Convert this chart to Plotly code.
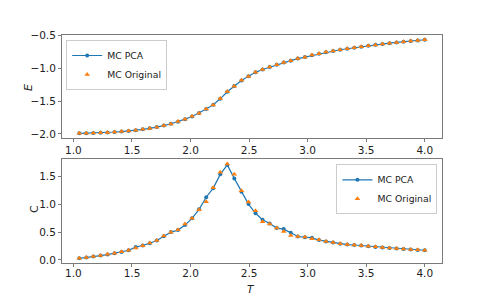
import plotly.graph_objects as go

T = [1.050, 1.110, 1.170, 1.231, 1.291, 1.351, 1.411, 1.471, 1.532, 1.592,
     1.652, 1.712, 1.772, 1.833, 1.893, 1.953, 2.013, 2.073, 2.134, 2.194,
     2.254, 2.314, 2.374, 2.435, 2.495, 2.555, 2.615, 2.676, 2.736, 2.796,
     2.856, 2.916, 2.977, 3.037, 3.097, 3.157, 3.217, 3.278, 3.338, 3.398,
     3.458, 3.518, 3.579, 3.639, 3.699, 3.759, 3.819, 3.880, 3.940, 4.000]

E_pca = [-1.991, -1.989, -1.986, -1.982, -1.977, -1.971, -1.964, -1.955, -1.944, -1.931,
         -1.915, -1.896, -1.873, -1.846, -1.814, -1.776, -1.735, -1.683, -1.622, -1.556,
         -1.466, -1.358, -1.270, -1.188, -1.124, -1.063, -1.019, -0.983, -0.946, -0.914,
         -0.885, -0.854, -0.831, -0.802, -0.780, -0.756, -0.739, -0.719, -0.704, -0.688,
         -0.673, -0.658, -0.645, -0.633, -0.619, -0.608, -0.597, -0.587, -0.577, -0.567]

E_orig = [-1.992, -1.990, -1.986, -1.983, -1.977, -1.972, -1.964, -1.956, -1.946, -1.931,
          -1.916, -1.897, -1.872, -1.848, -1.813, -1.778, -1.733, -1.686, -1.620, -1.560,
          -1.462, -1.355, -1.274, -1.185, -1.127, -1.060, -1.021, -0.981, -0.948, -0.912,
          -0.887, -0.853, -0.832, -0.800, -0.781, -0.755, -0.740, -0.718, -0.705, -0.687,
          -0.674, -0.657, -0.646, -0.632, -0.620, -0.607, -0.598, -0.586, -0.578, -0.566]

C_pca = [0.030, 0.042, 0.060, 0.078, 0.097, 0.120, 0.144, 0.174, 0.230, 0.258,
         0.300, 0.348, 0.425, 0.498, 0.534, 0.624, 0.744, 0.906, 1.122, 1.285,
         1.531, 1.699, 1.459, 1.218, 1.000, 0.835, 0.721, 0.654, 0.570, 0.552,
         0.486, 0.420, 0.408, 0.396, 0.355, 0.332, 0.312, 0.290, 0.276, 0.268,
         0.258, 0.246, 0.234, 0.222, 0.212, 0.204, 0.194, 0.186, 0.180, 0.174]

C_orig = [0.032, 0.044, 0.062, 0.082, 0.100, 0.122, 0.146, 0.172, 0.212, 0.256,
          0.302, 0.350, 0.428, 0.496, 0.540, 0.645, 0.748, 0.900, 1.040, 1.290,
          1.567, 1.717, 1.531, 1.236, 1.038, 0.880, 0.685, 0.642, 0.572, 0.510,
          0.438, 0.418, 0.410, 0.378, 0.362, 0.330, 0.314, 0.288, 0.278, 0.266,
          0.260, 0.245, 0.236, 0.221, 0.213, 0.203, 0.195, 0.185, 0.181, 0.173]

BLUE = "#1f77b4"
ORANGE = "#ff7f0e"
FONT = "DejaVu Sans"


def padded(vals, frac=0.05):
    lo, hi = min(vals), max(vals)
    span = hi - lo
    return [lo - frac * span, hi + frac * span]


fig = go.Figure()

# top panel
fig.add_trace(go.Scatter(x=T, y=E_pca, mode="lines+markers", name="MC PCA",
                         line=dict(color=BLUE, width=1.2),
                         marker=dict(symbol="circle", size=4, color=BLUE),
                         xaxis="x", yaxis="y", legend="legend"))
fig.add_trace(go.Scatter(x=T, y=E_orig, mode="markers", name="MC Original",
                         marker=dict(symbol="triangle-up", size=5, color=ORANGE),
                         xaxis="x", yaxis="y", legend="legend"))
# bottom panel
fig.add_trace(go.Scatter(x=T, y=C_pca, mode="lines+markers", name="MC PCA",
                         line=dict(color=BLUE, width=1.2),
                         marker=dict(symbol="circle", size=4, color=BLUE),
                         xaxis="x2", yaxis="y2", legend="legend2"))
fig.add_trace(go.Scatter(x=T, y=C_orig, mode="markers", name="MC Original",
                         marker=dict(symbol="triangle-up", size=5, color=ORANGE),
                         xaxis="x2", yaxis="y2", legend="legend2"))

axis_common = dict(showline=True, linecolor="#7a7a7a", linewidth=1, mirror=True,
                   ticks="outside", ticklen=3, tickcolor="#7a7a7a", tickwidth=1,
                   showgrid=False, zeroline=False,
                   tickfont=dict(family=FONT, size=10.5, color="#222"))

legend_common = dict(bgcolor="rgba(255,255,255,0.8)", bordercolor="#cccccc", borderwidth=1,
                     font=dict(family=FONT, size=9.3, color="#222"), tracegroupgap=0,
                     itemwidth=30)

xr = padded(T)
fig.update_layout(
    width=491, height=295,
    margin=dict(l=62, r=49, t=35, b=32),
    paper_bgcolor="white", plot_bgcolor="white",
    font=dict(family=FONT, size=10, color="#222"),
    xaxis=dict(domain=[0, 1], anchor="y", range=xr, dtick=0.5, tick0=1.0,
               tickformat=".1f", ticklabelstandoff=-1, **axis_common),
    yaxis=dict(domain=[0.548, 1], anchor="x", range=padded(E_pca + E_orig),
               dtick=0.5, tick0=-2.0, tickformat=".1f", **axis_common),
    xaxis2=dict(domain=[0, 1], anchor="y2", range=xr, dtick=0.5, tick0=1.0,
                tickformat=".1f", ticklabelstandoff=-3, **axis_common),
    yaxis2=dict(domain=[0, 0.455], anchor="x2", range=padded(C_pca + C_orig),
                dtick=0.5, tick0=0.0, tickformat=".1f", **axis_common),
    legend=dict(x=0.011, y=0.978, xanchor="left", yanchor="top", **legend_common),
    legend2=dict(x=0.988, y=0.433, xanchor="right", yanchor="top", **legend_common),
    annotations=[
        dict(text="<i>E</i>", xref="paper", yref="paper", x=-0.087, y=0.772,
             xanchor="center", yanchor="middle",
             showarrow=False, textangle=-90, font=dict(family=FONT, size=11, color="#222")),
        dict(text="C", xref="paper", yref="paper", x=-0.071, y=0.237,
             xanchor="center", yanchor="middle",
             showarrow=False, textangle=-90, font=dict(family=FONT, size=11, color="#222")),
        dict(text="<i>T</i>", xref="paper", yref="paper", x=0.498, y=-0.112,
             xanchor="center", yanchor="middle", borderpad=0,
             showarrow=False, font=dict(family=FONT, size=10.5, color="#222")),
    ],
)

fig.write_html("out.html", config={"displayModeBar": False},
               post_script="document.body.style.margin='0';document.body.style.padding='0';")
